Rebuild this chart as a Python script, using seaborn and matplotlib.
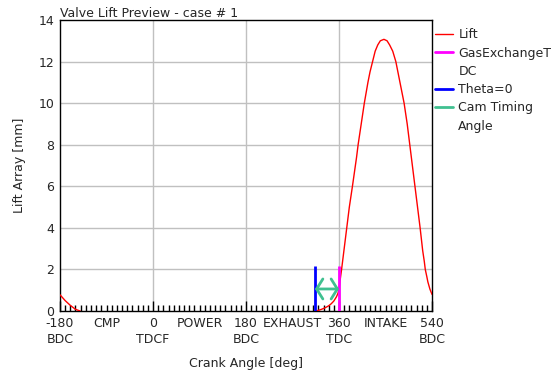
# valve lift preview, redrawn with seaborn
import pandas as pd
import matplotlib.pyplot as plt
import seaborn as sns
from matplotlib.lines import Line2D

main_angle = [313.5, 320, 325, 330, 335, 340, 345, 350, 355, 358, 360, 362, 365, 370,
              375, 380, 386, 390, 394, 397, 403, 409, 416, 420, 425, 430, 435, 440,
              447, 453, 458, 464, 470, 474, 478, 486, 492, 497, 502, 507, 512, 517,
              522, 525, 527, 530, 532, 536, 540]
main_lift = [0.0, 0.03, 0.07, 0.12, 0.18, 0.25, 0.35, 0.48, 0.68, 0.85, 1.05, 1.45, 2.0, 3.0,
             4.0, 5.0, 6.0, 6.7, 7.4, 8.0, 9.0, 10.0, 11.0, 11.5, 12.0, 12.5, 12.8, 13.0,
             13.07, 13.0, 12.8, 12.5, 12.0, 11.5, 11.0, 10.0, 9.0, 8.0, 7.0, 6.0, 5.0, 4.0,
             2.9, 2.4, 2.0, 1.65, 1.4, 1.05, 0.8]
wrap_angle = [-180, -170, -160, -150, -141]
wrap_lift = [0.78, 0.5, 0.27, 0.08, 0.0]

theta0 = 313.5          # blue marker
gas_tdc = 360           # magenta marker
marker_height = 2.16
cam_arrow_lift = 1.06

major_angles = [-180, 0, 180, 360, 540]
major_labels = ["-180\nBDC", "0\nTDCF", "180\nBDC", "360\nTDC", "540\nBDC"]
phase_angles = [-90, 90, 270, 450]
phase_labels = ["CMP", "POWER", "EXHAUST", "INTAKE"]
y_ticks = [0, 2, 4, 6, 8, 10, 12, 14]

legend_labels = ["Lift", "GasExchangeT", "DC", "Theta=0", "Cam Timing", "Angle"]

RED, MAGENTA, BLUE, TEAL = "#ff0000", "#ff00ff", "#0000ff", "#40c090"


def main():
    sns.set_style("white")
    plt.rcParams["font.family"] = ["DejaVu Sans"]
    plt.rcParams["font.size"] = 9

    fig = plt.figure(figsize=(5.51, 3.74), dpi=100)
    ax = fig.add_axes([60 / 551, 1 - 311 / 374, 372 / 551, 291 / 374])

    main_df = pd.DataFrame({"angle": main_angle, "lift": main_lift})
    wrap_df = pd.DataFrame({"angle": wrap_angle, "lift": wrap_lift})
    sns.lineplot(data=main_df, x="angle", y="lift", color=RED, lw=1, ax=ax, zorder=3)
    sns.lineplot(data=wrap_df, x="angle", y="lift", color=RED, lw=1, ax=ax, zorder=3)

    ax.vlines(theta0, 0, marker_height, color=BLUE, lw=2, zorder=4)
    ax.vlines(gas_tdc, 0, marker_height, color=MAGENTA, lw=2, zorder=4)
    ax.annotate("", xy=(gas_tdc, cam_arrow_lift), xytext=(theta0, cam_arrow_lift),
                arrowprops=dict(arrowstyle="<->,head_length=0.5,head_width=0.8",
                                color=TEAL, lw=2, shrinkA=0, shrinkB=0), zorder=5)

    ax.set_xlim(-180, 540)
    ax.set_ylim(0, 14)

    # grid only on the 180 deg marks and the even lifts
    for a in major_angles[1:-1]:
        ax.axvline(a, color="#c0c0c0", lw=1, zorder=0)
    for v in y_ticks[1:-1]:
        ax.axhline(v, color="#c0c0c0", lw=1, zorder=0)

    ax.set_xticks(major_angles)
    ax.set_xticklabels(major_labels)
    ax.set_xticks(range(-180, 541, 10), minor=True)
    ax.tick_params(axis="x", which="major", direction="in", length=7, width=1,
                   color="black", pad=4.5, labelsize=9, bottom=True)
    ax.tick_params(axis="x", which="minor", direction="in", length=4, width=1,
                   color="black", bottom=True)
    ax.set_yticks(y_ticks)
    ax.tick_params(axis="y", length=0, pad=4, labelsize=9)
    for t in ax.get_xticklabels():
        t.set_linespacing(1.3)

    for a, lab in zip(phase_angles, phase_labels):
        ax.annotate(lab, xy=(a, 0), xycoords=ax.get_xaxis_transform(),
                    xytext=(0, -4.5), textcoords="offset points",
                    ha="center", va="top", fontsize=9)

    for s in ax.spines.values():
        s.set_color("black")
        s.set_linewidth(1)

    ax.set_xlabel("Crank Angle [deg]", fontsize=9, labelpad=7.5)
    ax.set_ylabel("Lift Array [mm]", fontsize=9, labelpad=9)
    ax.set_title("Valve Lift Preview - case # 1", loc="left", fontsize=9, pad=1)

    blank = Line2D([], [], color="none")
    handles = [Line2D([], [], color=RED, lw=1),
               Line2D([], [], color=MAGENTA, lw=2), blank,
               Line2D([], [], color=BLUE, lw=2),
               Line2D([], [], color=TEAL, lw=2), blank]
    ax.legend(handles, legend_labels, loc="upper left", bbox_to_anchor=(1.0, 0.98),
              frameon=False, borderaxespad=0, borderpad=0.2, handlelength=1.5,
              handletextpad=0.4, labelspacing=0.42, fontsize=9)

    fig.savefig("out.png", dpi=100)
    plt.close(fig)


if __name__ == "__main__":
    main()
